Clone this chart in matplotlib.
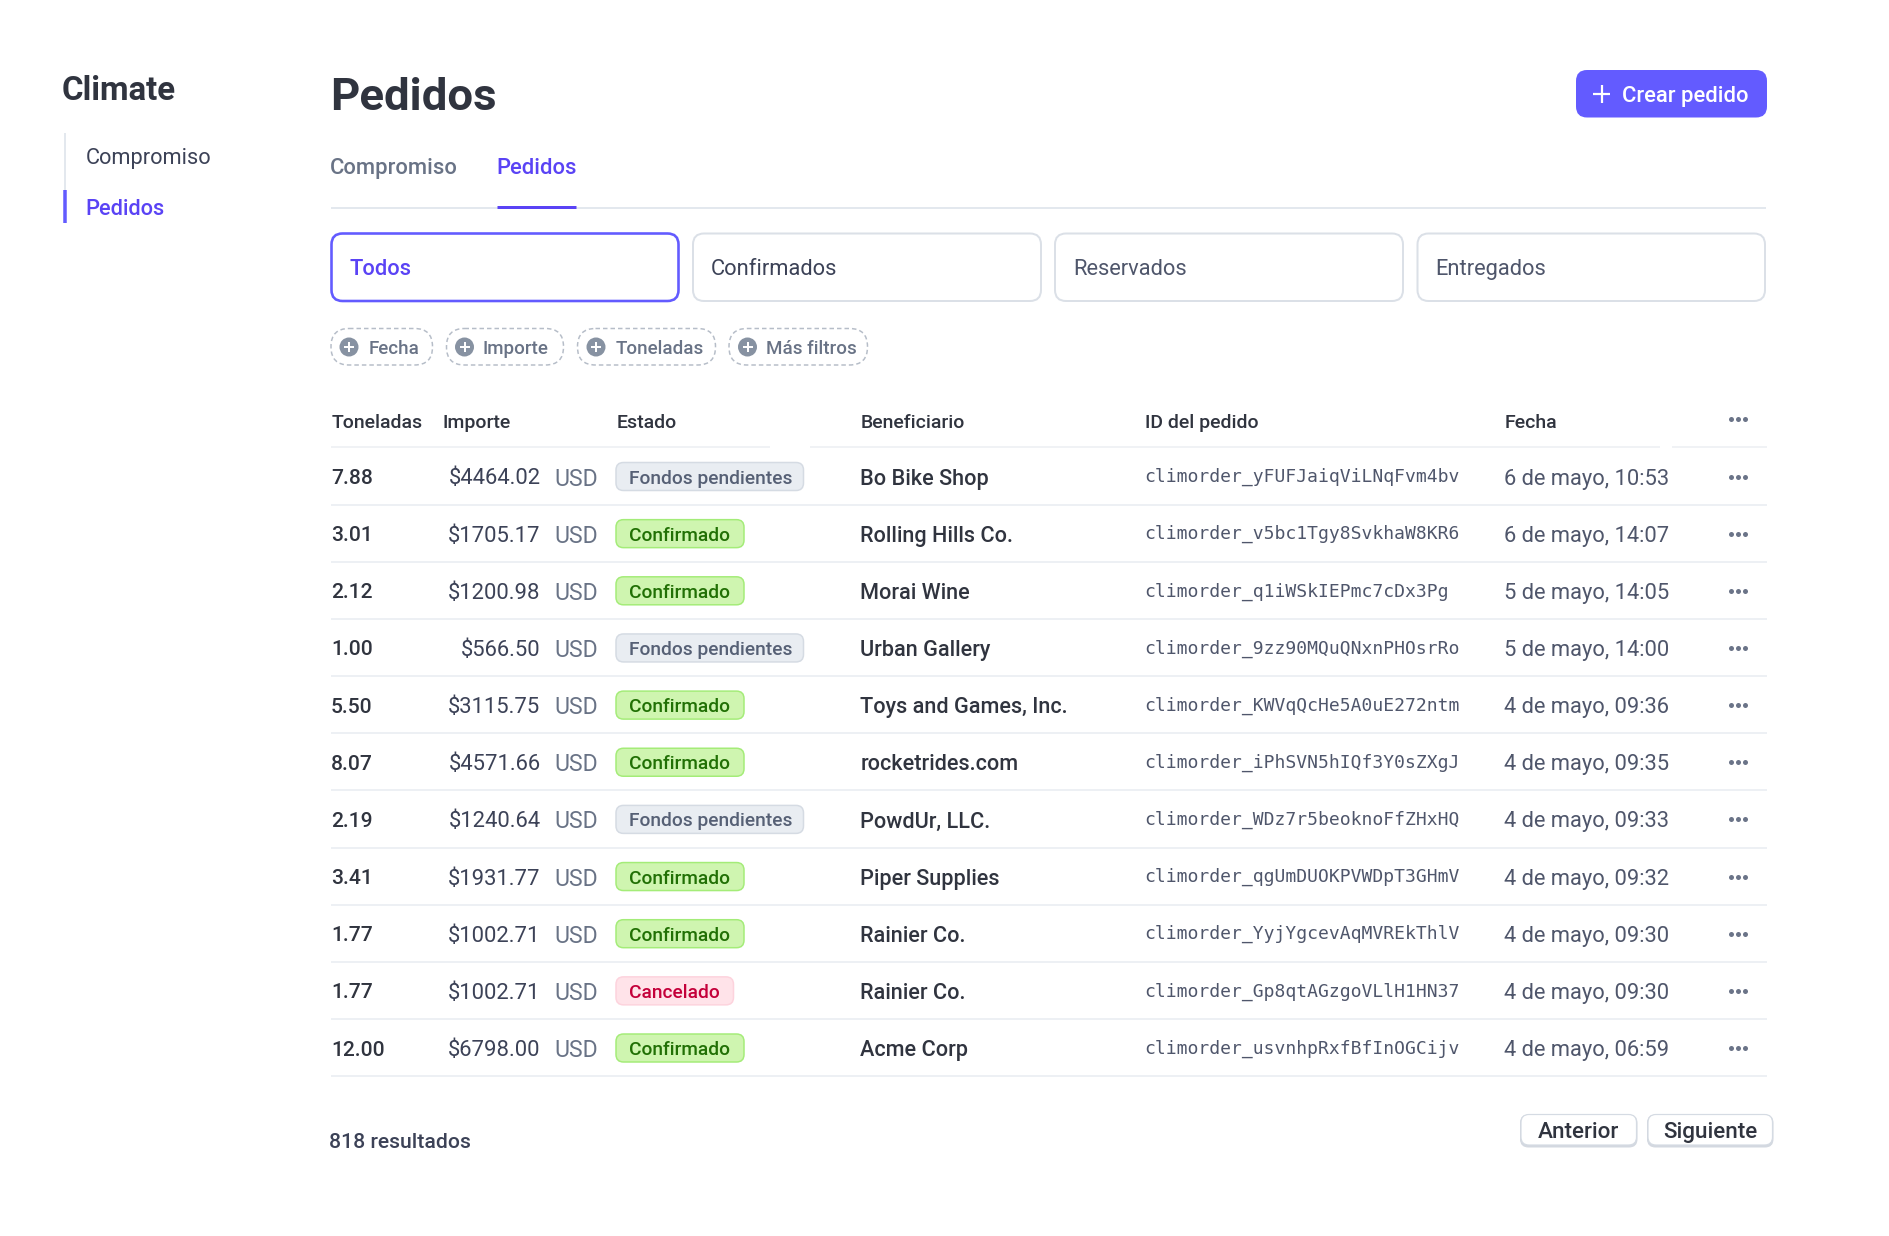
import matplotlib
matplotlib.use("Agg")
import matplotlib.pyplot as plt
from matplotlib.patches import FancyBboxPatch, Circle, Rectangle

# ---------- data ----------
sidebar_title = "Climate"
sidebar_items = ["Compromiso", "Pedidos"]
page_title = "Pedidos"
create_label = "Crear pedido"
tab_labels = ["Compromiso", "Pedidos"]
segment_labels = ["Todos", "Confirmados", "Reservados", "Entregados"]
filter_labels = ["Fecha", "Importe", "Toneladas", "Más filtros"]
header_labels = ["Toneladas", "Importe", "Estado", "Beneficiario", "ID del pedido", "Fecha"]
tons = [7.88, 3.01, 2.12, 1.00, 5.50, 8.07, 2.19, 3.41, 1.77, 1.77, 12.00]
amounts = [4464.02, 1705.17, 1200.98, 566.50, 3115.75, 4571.66, 1240.64, 1931.77, 1002.71, 1002.71, 6798.00]
statuses = ["Fondos pendientes", "Confirmado", "Confirmado", "Fondos pendientes", "Confirmado", "Confirmado",
            "Fondos pendientes", "Confirmado", "Confirmado", "Cancelado", "Confirmado"]
customers = ["Bo Bike Shop", "Rolling Hills Co.", "Morai Wine", "Urban Gallery", "Toys and Games, Inc.",
             "rocketrides.com", "PowdUr, LLC.", "Piper Supplies", "Rainier Co.", "Rainier Co.", "Acme Corp"]
order_ids = ["climorder_yFUFJaiqViLNqFvm4bv", "climorder_v5bc1Tgy8SvkhaW8KR6", "climorder_q1iWSkIEPmc7cDx3Pg",
             "climorder_9zz90MQuQNxnPHOsrRo", "climorder_KWVqQcHe5A0uE272ntm", "climorder_iPhSVN5hIQf3Y0sZXgJ",
             "climorder_WDz7r5beoknoFfZHxHQ", "climorder_qgUmDUOKPVWDpT3GHmV", "climorder_YyjYgcevAqMVREkThlV",
             "climorder_Gp8qtAGzgoVLlH1HN37", "climorder_usvnhpRxfBfInOGCijv"]
dates = ["6 de mayo, 10:53", "6 de mayo, 14:07", "5 de mayo, 14:05", "5 de mayo, 14:00", "4 de mayo, 09:36",
         "4 de mayo, 09:35", "4 de mayo, 09:33", "4 de mayo, 09:32", "4 de mayo, 09:30", "4 de mayo, 09:30",
         "4 de mayo, 06:59"]
currency = "USD"
results_label = "818 resultados"
pager_labels = ["Anterior", "Siguiente"]

# ---------- styles ----------
ACCENT = "#635bff"
ACCENT_TEXT = "#5a43f5"
DARK = "#30343f"
MID = "#4f566b"
GREY = "#697386"
LINE = "#e3e8ee"
ROWLINE = "#edf0f4"
BADGES = {
    "Fondos pendientes": ("#e9edf2", "#d5dbe3", "#566075", 187.5),
    "Confirmado": ("#cff5b0", "#a4ec78", "#217005", 128),
    "Cancelado": ("#ffe3e9", "#fdd3dd", "#c4003a", 117.5),
}
FONT = "Roboto"
PX = 0.72


def T(x, y, s, size, color=DARK, weight="normal", ha="left", va="center_baseline", family=FONT):
    return ax.text(x, y, s, fontsize=size * PX, color=color, fontweight=weight, ha=ha, va=va, family=family)


def box(x0, y0, x1, y1, r, fc="white", ec="none", lw=1.5, ls="-", z=2):
    p = FancyBboxPatch((x0, y0), x1 - x0, y1 - y0, boxstyle=f"round,pad=0,rounding_size={r}",
                       fc=fc, ec=ec, lw=lw * PX, ls=ls, zorder=z)
    ax.add_patch(p)
    return p


def hline(x0, x1, y, color, lw):
    ax.plot([x0, x1], [y, y], color=color, lw=lw * PX, solid_capstyle="butt", zorder=1)


def dots(cx, y, color="#6b7488"):
    ax.plot([cx - 7, cx, cx + 7], [y, y, y], ls="none", marker="o", ms=5 * PX, mfc=color, mec=color, mew=0, zorder=3)


fig = plt.figure(figsize=(18.9, 12.36), dpi=100, facecolor="white")
ax = fig.add_axes([0, 0, 1, 1])
ax.set_xlim(0, 1890)
ax.set_ylim(1236, 0)
ax.axis("off")

# sidebar
T(62, 88, sidebar_title, 33, DARK, "bold")
ax.plot([64.5, 64.5], [133, 190], color=LINE, lw=2 * PX, solid_capstyle="butt")
ax.plot([64.5, 64.5], [190, 223], color=ACCENT, lw=3.5 * PX, solid_capstyle="butt")
T(85.5, 156, sidebar_items[0], 21.8, "#3c4257")
T(85.5, 207, sidebar_items[1], 21.8, ACCENT_TEXT, "medium")

# header
T(330, 93, page_title, 45.5, DARK, "bold")
box(1576, 70, 1767, 117.5, 11, fc=ACCENT)
ax.plot([1593, 1610], [94, 94], color="white", lw=2.2 * PX, solid_capstyle="butt", zorder=3)
ax.plot([1601.5, 1601.5], [85, 103], color="white", lw=2.2 * PX, solid_capstyle="butt", zorder=3)
T(1622.5, 94, create_label, 22, "white", "medium")

# tabs
T(330, 166, tab_labels[0], 22, GREY, "medium")
T(496.5, 166, tab_labels[1], 22, ACCENT_TEXT, "medium")
hline(331, 1766, 207.5, LINE, 2)
hline(496.5, 576, 207, ACCENT_TEXT, 3)

# segments
seg_x = [(331.5, 678.5), (693, 1041), (1055, 1403), (1417.5, 1765)]
seg_text_x = [349, 711, 1073, 1435]
for i, (lab, (a, b), tx) in enumerate(zip(segment_labels, seg_x, seg_text_x)):
    active = i == 0
    box(a, 233.5, b, 301, 11, ec=ACCENT if active else "#dbe0e7", lw=2.6 if active else 2)
    T(tx, 267, lab, 21.9, ACCENT_TEXT if active else ("#3c4257" if i == 1 else MID), "medium" if active else "normal")

# filters
chip_x = [(331, 432.5), (446.5, 563.5), (577.5, 715.5), (729, 867.5)]
circle_x = [349, 464.5, 596, 747.5]
chip_text_x = [368.5, 483, 615.5, 766.5]
for lab, (a, b), cx, tx in zip(filter_labels, chip_x, circle_x, chip_text_x):
    box(a, 328.5, b, 365, 18, ec="#b6bdc8", lw=1.5, ls=(0, (3, 2)))
    ax.add_patch(Circle((cx, 347), 9.5, fc="#8792a2", ec="none", zorder=3))
    ax.plot([cx - 5, cx + 5], [347, 347], color="white", lw=2 * PX, zorder=4, solid_capstyle="butt")
    ax.plot([cx, cx], [342, 352], color="white", lw=2 * PX, zorder=4, solid_capstyle="butt")
    T(tx, 347, lab, 18.8, GREY, "medium")

# table header
hdr_x = [331.5, 442, 617, 860.5, 1145, 1505]
for lab, x in zip(header_labels, hdr_x):
    T(x, 420.5, lab, 19.5, DARK, "medium")
dots(1737.5, 419)
for a, b in [(331, 770), (810, 1660), (1672, 1767)]:
    hline(a, b, 447, "#f0f2f5", 2)

# rows
ROW0 = 476.5
ROWH = 57.15
for i in range(len(tons)):
    y = ROW0 + i * ROWH
    T(331, y, f"{tons[i]:.2f}", 21, DARK, "medium")
    T(540.5, y, f"${amounts[i]:.2f}", 22, "#3c4257", ha="right")
    T(554, y, currency, 23, GREY)
    fc, ec, tc, w = BADGES[statuses[i]]
    box(616, y - 14, 616 + w, y + 14, 7.5, fc=fc, ec=ec, lw=1.5)
    T(629, y, statuses[i], 19.2, tc, "medium")
    T(860.5, y, customers[i], 21.6, DARK, "medium")
    T(1144, y - 1.5, order_ids[i], 17.97, MID, family="DejaVu Sans Mono")
    T(1504.5, y, dates[i], 21.9, MID)
    dots(1737.5, y)
    hline(331, 1767, y + 28.2, ROWLINE, 2)

# footer
T(329, 1140, results_label, 21.2, "#3c4257", "medium")
for lab, (a, b) in zip(pager_labels, [(1520.5, 1637), (1647.5, 1773)]):
    box(a, 1115, b, 1147, 8, fc="#d3d8e0", ec="#d3d8e0", lw=1, z=2)
    box(a + .5, 1114.5, b - .5, 1145, 8, fc="white", ec="#d5dbe3", lw=1.2, z=3)
    t = T((a + b) / 2, 1130, lab, 22.5, DARK, "medium", ha="center")
    t.set_zorder(4)

fig.savefig("out.png", dpi=100, facecolor="white")
